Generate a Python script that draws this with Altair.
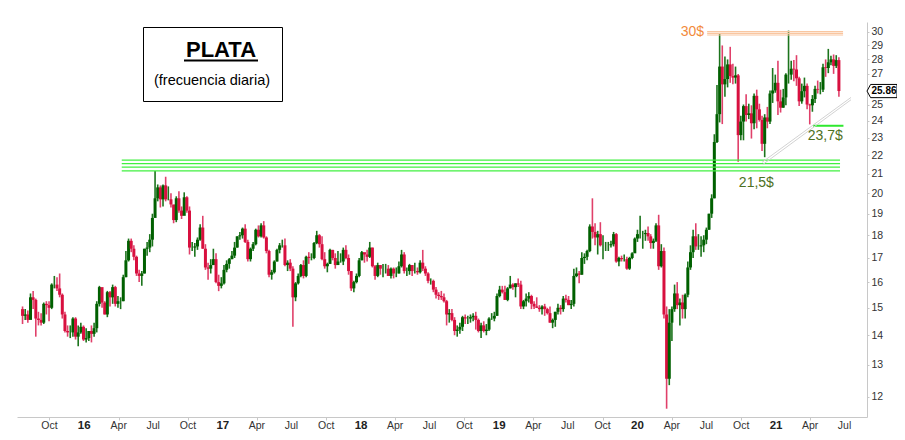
import altair as alt
import pandas as pd

# ---------------- data (weekly OHLC; open = previous close) ----------------
first_open = 14.95
start_week = "2015-07-22"

high = [
    # 2015 (from week of Jul 20)
    15.05, 14.95, 14.90, 15.55, 15.65, 15.35, 14.85, 14.80, 15.20, 15.25, 15.25, 15.95,
    16.25, 16.20, 16.35, 15.55, 14.85, 14.35, 14.35, 14.65, 14.65, 14.35, 14.45, 14.35,
    # 2016
    14.25, 14.15, 14.35, 14.45, 15.25, 15.85, 15.65, 15.25, 15.65, 15.65, 15.90, 15.85, 15.45,
    15.40, 16.30, 17.30, 17.85, 17.85, 17.55, 17.10, 16.50, 16.45, 17.40, 17.70, 18.05, 19.00,
    21.15, 20.45, 20.40, 20.45, 20.85, 20.35, 20.00, 19.35, 19.85, 20.10, 19.35, 20.05, 19.85,
    19.35, 17.70, 17.65, 17.90, 18.50, 18.90, 17.60, 16.80, 16.95, 17.40, 17.20, 16.30, 16.20,
    # 2017
    16.70, 16.90, 17.00, 17.30, 17.70, 17.95, 18.15, 18.35, 18.50, 17.80, 17.45, 17.70, 18.30,
    18.45, 18.55, 18.65, 17.95, 17.35, 16.50, 16.90, 17.40, 17.65, 17.80, 17.85, 16.90, 16.95,
    16.65, 16.00, 16.35, 16.75, 16.90, 17.10, 17.25, 17.20, 17.70, 18.20, 18.05, 17.95, 17.25,
    16.80, 17.40, 17.35, 17.20, 17.30, 17.20, 17.45, 17.55, 17.15, 16.45, 16.05, 16.35, 17.00,
    # 2018
    17.30, 17.20, 17.35, 17.70, 17.45, 16.70, 16.80, 16.70, 16.75, 16.75, 16.70, 16.60, 16.60,
    16.60, 16.85, 17.35, 17.25, 16.60, 16.75, 16.70, 16.80, 16.60, 16.90, 17.35, 16.65, 16.40,
    16.15, 16.10, 15.80, 15.60, 15.65, 15.55, 15.30, 14.95, 14.95, 14.65, 14.35, 14.45, 14.70,
    14.75, 14.70, 14.75, 14.80, 14.85, 14.60, 14.45, 14.50, 14.40, 14.65, 14.80, 14.85, 15.55, 15.85,
    # 2019
    15.85, 15.85, 15.80, 16.25, 15.95, 15.95, 16.15, 16.05, 15.30, 15.55, 15.60, 15.50, 15.25,
    15.40, 15.10, 15.10, 15.15, 15.00, 15.05, 14.60, 14.85, 15.15, 15.10, 15.45, 15.50, 15.45,
    15.30, 16.55, 16.60, 16.45, 17.25, 17.20, 17.35, 18.50, 19.75, 18.55, 18.20, 18.60, 18.00,
    17.70, 17.70, 17.75, 18.15, 18.10, 17.05, 17.10, 17.15, 17.05, 17.05, 17.25, 17.90, 18.25,
    # 2020
    18.90, 18.20, 18.25, 18.40, 18.05, 17.85, 18.55, 18.95, 17.60, 17.45, 15.05, 14.95, 15.05,
    15.90, 16.00, 15.35, 15.50, 15.55, 16.85, 17.55, 18.25, 18.55, 18.05, 17.95, 18.00, 18.35,
    19.00, 19.95, 23.20, 26.25, 29.85, 29.00, 28.20, 28.00, 28.90, 27.70, 27.50, 27.00, 24.30,
    25.00, 25.65, 25.05, 24.95, 25.70, 25.95, 25.05, 24.30, 24.40, 24.85, 25.90, 27.40, 26.95,
    # 2021
    27.90, 25.95, 26.00, 27.05, 30.10, 27.90, 27.95, 28.30, 26.80, 26.35, 26.75, 26.35, 25.05,
    25.60, 26.20, 26.55, 26.45, 27.70, 28.00, 28.75, 28.25, 28.35, 28.30, 28.15,
]

low = [
    # 2015
    14.40, 14.55, 14.45, 14.60, 14.95, 13.95, 14.35, 14.35, 14.40, 14.75, 14.50, 14.95,
    15.75, 15.65, 15.40, 14.60, 14.10, 13.95, 13.90, 13.95, 13.85, 13.62, 14.05, 13.80,
    # 2016
    13.75, 13.80, 13.75, 13.95, 14.10, 15.05, 15.00, 14.75, 14.65, 15.05, 15.15, 15.05, 15.00,
    14.95, 15.25, 16.20, 16.85, 17.25, 16.90, 16.25, 16.00, 15.85, 16.35, 17.10, 17.25, 17.50,
    19.20, 19.60, 19.30, 19.35, 19.60, 19.65, 19.30, 18.55, 18.60, 19.05, 18.75, 19.05, 19.05,
    17.15, 17.30, 17.05, 17.35, 17.75, 17.40, 16.50, 16.10, 16.35, 16.70, 15.95, 15.64, 15.75,
    # 2017
    15.90, 16.40, 16.55, 16.95, 17.00, 17.45, 17.80, 17.85, 17.65, 16.85, 16.85, 17.30, 17.55,
    17.90, 17.90, 17.85, 17.20, 16.20, 16.10, 16.35, 16.85, 17.20, 17.45, 16.65, 16.45, 16.45,
    14.30, 15.25, 15.90, 16.20, 16.15, 16.20, 16.75, 16.90, 16.95, 17.60, 17.45, 16.90, 16.55,
    16.40, 16.75, 16.90, 16.55, 16.75, 16.80, 16.70, 16.95, 16.30, 15.65, 15.60, 15.95, 16.20,
    # 2018
    16.90, 16.80, 16.85, 17.00, 16.60, 16.10, 16.20, 16.30, 16.20, 16.35, 16.25, 16.15, 16.15,
    16.20, 16.35, 16.60, 16.35, 16.25, 16.30, 16.25, 16.35, 16.30, 16.35, 16.45, 16.25, 15.95,
    15.90, 15.60, 15.35, 15.30, 15.30, 15.20, 14.35, 14.45, 14.50, 14.00, 13.95, 14.05, 14.15,
    14.40, 14.40, 14.45, 14.50, 14.20, 14.10, 13.90, 14.10, 14.00, 14.15, 14.55, 14.50, 14.70, 15.40,
    # 2019
    15.55, 15.30, 15.25, 15.75, 15.70, 15.40, 15.80, 14.95, 14.95, 15.05, 15.20, 14.95, 14.95,
    15.00, 14.85, 14.75, 14.70, 14.75, 14.45, 14.25, 14.30, 14.75, 14.75, 14.85, 15.20, 15.10,
    14.95, 15.05, 16.20, 15.95, 16.30, 16.75, 16.90, 17.25, 17.85, 17.55, 17.15, 17.50, 16.95,
    17.30, 17.30, 17.45, 17.50, 16.80, 16.65, 16.85, 16.85, 16.50, 16.50, 16.95, 17.25, 17.70,
    # 2020
    17.85, 17.40, 17.75, 17.75, 17.40, 17.40, 17.70, 16.50, 16.60, 14.60, 11.64, 12.35, 13.80,
    14.85, 14.95, 14.35, 14.60, 14.60, 15.40, 16.50, 17.00, 17.35, 17.35, 17.05, 17.25, 17.60,
    18.25, 18.80, 19.75, 22.70, 23.90, 23.80, 25.50, 26.10, 26.40, 26.30, 26.35, 21.65, 22.85,
    22.85, 23.95, 24.10, 22.95, 23.50, 23.55, 23.95, 22.25, 21.90, 23.55, 23.80, 25.10, 25.75,
    # 2021
    24.35, 24.50, 24.80, 24.95, 26.35, 26.60, 26.50, 26.20, 24.90, 25.05, 25.45, 24.70, 23.78,
    24.55, 25.10, 25.70, 25.65, 25.80, 26.80, 27.05, 27.60, 27.00, 27.40, 25.50,
]

close = [
    # 2015
    14.70, 14.75, 14.55, 15.40, 15.30, 14.60, 14.55, 14.45, 15.15, 15.10, 15.00, 15.90,
    15.90, 15.75, 15.50, 14.75, 14.15, 14.10, 14.10, 14.60, 13.95, 14.10, 14.30, 13.85,
    # 2016
    13.90, 14.15, 14.05, 14.25, 15.15, 15.80, 15.20, 14.75, 15.60, 15.40, 15.80, 15.15, 15.25,
    15.25, 16.20, 16.90, 17.75, 17.40, 17.05, 16.35, 16.25, 16.35, 17.40, 17.45, 17.80, 18.80,
    19.75, 20.30, 19.70, 20.40, 19.70, 19.70, 19.45, 18.70, 19.75, 19.15, 18.90, 19.80, 19.15,
    17.45, 17.45, 17.50, 17.80, 18.35, 17.40, 16.60, 16.55, 16.70, 16.95, 16.00, 15.85, 15.95,
    # 2017
    16.50, 16.75, 16.95, 17.10, 17.45, 17.95, 18.00, 18.30, 17.70, 16.95, 17.40, 17.60, 18.25,
    17.95, 18.45, 17.90, 17.30, 16.30, 16.40, 16.85, 17.35, 17.55, 17.55, 16.70, 16.80, 16.55,
    15.40, 15.95, 16.25, 16.70, 16.25, 17.05, 17.00, 17.00, 17.65, 18.00, 17.60, 16.95, 16.65,
    16.75, 17.35, 17.00, 16.70, 16.85, 16.85, 17.35, 17.00, 16.45, 15.75, 16.00, 16.25, 16.90,
    # 2018
    17.25, 17.15, 17.05, 17.45, 16.65, 16.25, 16.70, 16.55, 16.55, 16.55, 16.25, 16.55, 16.35,
    16.35, 16.65, 17.15, 16.45, 16.45, 16.70, 16.45, 16.45, 16.40, 16.80, 16.55, 16.35, 16.05,
    16.05, 15.70, 15.50, 15.45, 15.40, 15.25, 14.75, 14.80, 14.55, 14.15, 14.20, 14.30, 14.65,
    14.60, 14.60, 14.65, 14.70, 14.55, 14.15, 14.35, 14.15, 14.20, 14.60, 14.60, 14.70, 15.45, 15.70,
    # 2019
    15.60, 15.30, 15.75, 15.90, 15.80, 15.95, 15.90, 15.05, 15.25, 15.35, 15.45, 15.15, 15.05,
    15.00, 14.95, 15.05, 14.95, 14.80, 14.45, 14.55, 14.85, 15.00, 14.95, 15.35, 15.30, 15.10,
    15.15, 16.25, 16.35, 16.30, 17.00, 17.05, 17.30, 18.40, 18.15, 17.90, 18.05, 17.55, 17.55,
    17.55, 17.55, 17.60, 18.05, 16.85, 17.00, 16.95, 16.95, 16.55, 17.00, 17.20, 17.85, 18.05,
    # 2020
    18.05, 18.05, 18.10, 17.95, 17.65, 17.75, 18.45, 16.65, 17.30, 14.75, 12.55, 14.45, 14.95,
    15.55, 15.10, 15.20, 14.95, 15.50, 16.60, 17.25, 17.95, 17.50, 17.50, 17.55, 17.80, 18.25,
    19.00, 19.75, 22.75, 24.40, 27.50, 26.30, 26.65, 27.65, 26.85, 26.75, 26.90, 23.15, 23.95,
    24.90, 24.35, 24.45, 23.85, 25.55, 24.70, 24.05, 22.65, 24.20, 23.95, 25.70, 25.90, 26.40,
    # 2021
    25.20, 24.80, 25.45, 26.95, 26.95, 27.35, 27.30, 26.70, 25.20, 25.85, 26.20, 25.00, 24.95,
    25.35, 26.00, 25.95, 25.95, 27.45, 27.40, 27.80, 28.00, 27.55, 27.95, 25.86,
]

last_price = 25.86
title_main = "PLATA"
title_sub = "(frecuencia diaria)"

# resistance / support levels
green_levels = [21.74, 21.55, 21.36, 21.16]
green_span = ["2016-04-09", "2021-06-19"]
orange_levels = [30.02, 29.90, 29.77]
orange_span = ["2020-07-03", "2021-06-27"]
support_level = 23.70
support_span = ["2021-04-09", "2021-06-28"]
trend_start = ["2020-11-25", "2020-11-27"]
trend_end = ["2021-07-18", "2021-07-18"]
trend_p0 = [21.62, 21.50]
trend_p1 = [25.45, 25.30]

ann_labels = ["30$", "21,5$", "23,7$"]
ann_dates = ["2020-06-25", "2020-11-10", "2021-05-11"]
ann_prices = [30.0, 20.54, 23.11]

y_ticks = [12, 13, 14, 15, 16, 17, 18, 19, 20, 21, 22, 23, 24, 25, 27, 28, 29, 30]

# x tick labels (quarterly)
x_tick_dates = [
    "2015-10-01",
    "2016-01-01", "2016-04-01", "2016-07-01", "2016-10-01",
    "2017-01-01", "2017-04-01", "2017-07-01", "2017-10-01",
    "2018-01-01", "2018-04-01", "2018-07-01", "2018-10-01",
    "2019-01-01", "2019-04-01", "2019-07-01", "2019-10-01",
    "2020-01-01", "2020-04-01", "2020-07-01", "2020-10-01",
    "2021-01-01", "2021-04-01", "2021-07-01",
]
x_tick_text = [
    "Oct",
    "16", "Apr", "Jul", "Oct",
    "17", "Apr", "Jul", "Oct",
    "18", "Apr", "Jul", "Oct",
    "19", "Apr", "Jul", "Oct",
    "20", "Apr", "Jul", "Oct",
    "21", "Apr", "Jul",
]

# ---------------- build frames ----------------
n = len(close)
dates = pd.date_range(start_week, periods=n, freq="7D")
opens = [first_open] + close[:-1]
df = pd.DataFrame({
    "date": dates, "open": opens, "high": high[:n], "low": low[:n], "close": close,
})
up = [c >= o for o, c in zip(df["open"], df["close"])]
df["body_col"] = ["#006000" if u else "#d8103f" for u in up]
df["wick_col"] = ["#1c741c" if u else "#e0406a" for u in up]

yscale = alt.Scale(type="log", domain=[11.4, 30.76], nice=False)
xscale = alt.Scale(domain=[alt.DateTime(year=2015, month=7, date=20, hours=14),
                           alt.DateTime(year=2021, month=8, date=16)])

x_axis = alt.Axis(
    values=[alt.DateTime(year=int(d[:4]), month=int(d[5:7]), date=1) for d in x_tick_dates],
    labels=False, title=None, grid=False,
    domainColor="#c8c8c8", tickColor="#c8c8c8", tickSize=3,
)
y_axis = alt.Axis(
    orient="right", values=y_ticks, format="d", title=None, grid=False,
    labelOverlap=False, labelBound=False, labelFlush=False,
    labelFont="Liberation Sans", labelFontSize=10.5, labelColor="#333333",
    domainColor="#c8c8c8", tickColor="#c8c8c8", tickSize=2, labelPadding=2,
)

base = alt.Chart(df)
wick = base.mark_rule(strokeWidth=1.6).encode(
    x=alt.X("date:T", scale=xscale, axis=x_axis),
    y=alt.Y("low:Q", scale=yscale, axis=y_axis),
    y2="high:Q",
    color=alt.Color("wick_col:N", scale=None),
)
body = base.mark_bar(size=3).encode(
    x="date:T",
    y="open:Q",
    y2="close:Q",
    color=alt.Color("body_col:N", scale=None),
)

# x labels as text (years in bold)
xl = pd.DataFrame({"d": x_tick_dates, "t": x_tick_text})
xl["w"] = ["bold" if t.isdigit() else "normal" for t in x_tick_text]
xlab_norm = alt.Chart(xl[xl["w"] == "normal"]).mark_text(
    font="Liberation Sans", fontSize=10.5, color="#333333", baseline="middle", align="center"
).encode(x="d:T", y=alt.value(404), text="t:N")
xlab_bold = alt.Chart(xl[xl["w"] == "bold"]).mark_text(
    font="Liberation Sans", fontSize=11.5, fontWeight="bold", color="#222222", baseline="middle", align="center"
).encode(x="d:T", y=alt.value(404), text="t:N")

# horizontal levels
lv_rows = []
for p in green_levels:
    lv_rows.append({"d0": green_span[0], "d1": green_span[1], "p": p, "col": "#40f040"})
for p in orange_levels:
    lv_rows.append({"d0": orange_span[0], "d1": orange_span[1], "p": p, "col": "#f9c6a0"})
levels = pd.DataFrame(lv_rows)
level_rules = alt.Chart(levels).mark_rule(strokeWidth=1.2).encode(
    x="d0:T", x2="d1:T", y="p:Q", color=alt.Color("col:N", scale=None),
)
support = alt.Chart(pd.DataFrame({"d0": [support_span[0]], "d1": [support_span[1]], "p": [support_level]})).mark_rule(
    strokeWidth=2, color="#2ee82e").encode(x="d0:T", x2="d1:T", y="p:Q")

trend = alt.Chart(pd.DataFrame({"d0": trend_start, "d1": trend_end, "p0": trend_p0, "p1": trend_p1})).mark_rule(
    strokeWidth=1, color="#d2d2d2").encode(x="d0:T", x2="d1:T", y="p0:Q", y2="p1:Q")

annotations = pd.DataFrame({"label": ann_labels, "date": ann_dates, "price": ann_prices})
ann_left = alt.Chart(annotations.iloc[[0]]).mark_text(font="Liberation Sans", fontSize=14, baseline="middle",
                                                      align="right", color="#f28a3c").encode(
    x="date:T", y="price:Q", text="label:N")
ann_center = alt.Chart(annotations.iloc[1:]).mark_text(font="Liberation Sans", fontSize=14, baseline="middle",
                                                       align="center", color="#4d7022").encode(
    x="date:T", y="price:Q", text="label:N")

# price tag at the last price
tag_df = pd.DataFrame({"p": [last_price], "t": [f"{last_price:.2f}"]})
tag = alt.Chart(tag_df).mark_point(
    shape="M-1,0 L-0.76,-0.44 L1,-0.44 L1,0.44 L-0.76,0.44 Z", size=900, filled=True,
    fill="white", stroke="black", strokeWidth=1, opacity=1,
).encode(x=alt.value(865), y="p:Q")
tag_text = alt.Chart(tag_df).mark_text(font="Liberation Sans", fontSize=10, fontWeight="bold",
                                       color="black", baseline="middle", align="center").encode(
    x=alt.value(867), y="p:Q", text="t:N")

# title box
box_df = pd.DataFrame({"a": [1]})
box = alt.Chart(box_df).mark_rect(fill="white", stroke="black", strokeWidth=1).encode(
    x=alt.value(126.5), x2=alt.value(265.5), y=alt.value(5.5), y2=alt.value(79.5))
t1 = alt.Chart(pd.DataFrame({"t": [title_main]})).mark_text(
    font="Liberation Sans", fontSize=22, fontWeight="bold", color="black", align="center", baseline="alphabetic"
).encode(x=alt.value(204), y=alt.value(35), text="t:N")
uline = alt.Chart(box_df).mark_rule(color="black", strokeWidth=2).encode(
    x=alt.value(167), x2=alt.value(241), y=alt.value(38.5))
t2 = alt.Chart(pd.DataFrame({"t": [title_sub]})).mark_text(
    font="Liberation Sans", fontSize=14.5, color="black", align="center", baseline="alphabetic"
).encode(x=alt.value(195), y=alt.value(63), text="t:N")

chart = alt.layer(
    wick, body, level_rules, support, trend, ann_left, ann_center, tag, tag_text, box, t1, uline, t2,
    xlab_norm, xlab_bold,
).properties(
    width=850, height=395, autosize="none",
    padding={"left": 9, "top": 14, "right": 30, "bottom": 15},
).configure_view(stroke=None)

chart.save("out.html", embed_options={"renderer": "svg", "actions": False})
